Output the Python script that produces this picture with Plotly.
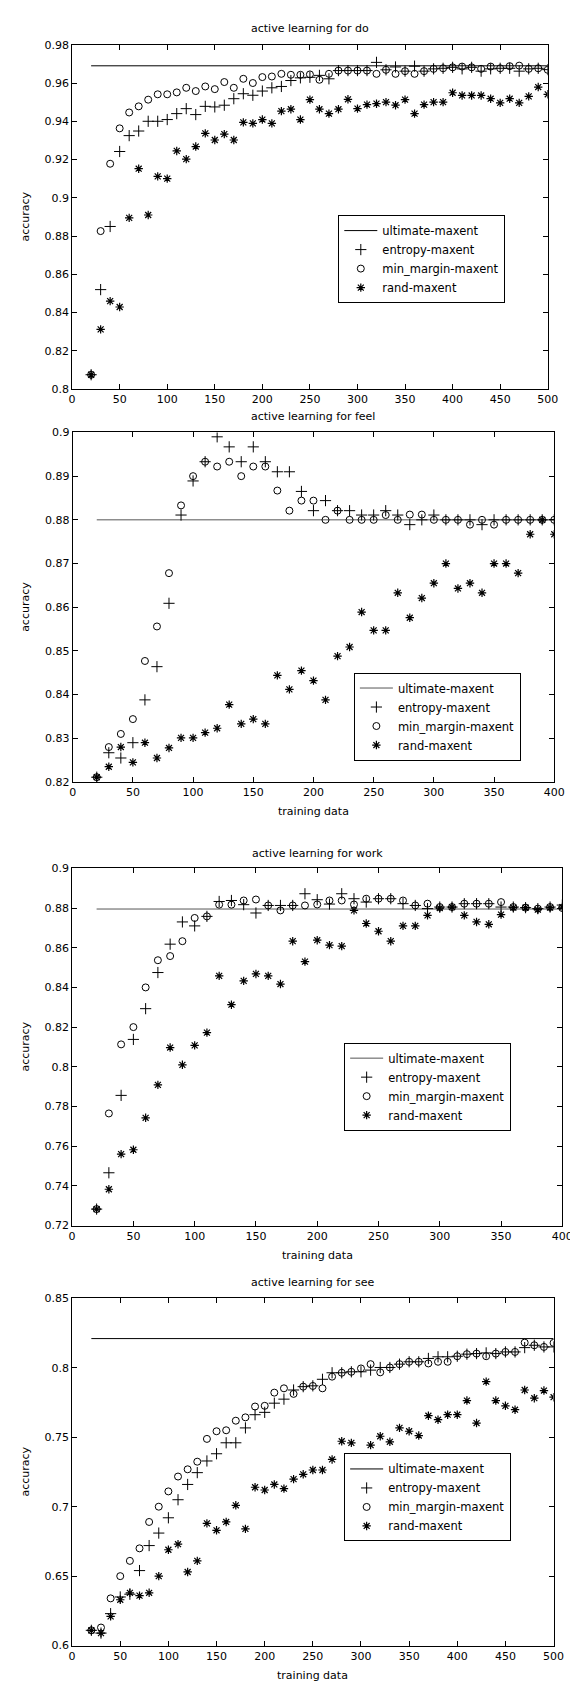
import plotly.graph_objects as go

# ---------------- data ----------------
x_do = list(range(20, 501, 10))
do_entropy = [0.8075, 0.852, 0.885, 0.9242, 0.9325, 0.9349, 0.94, 0.94, 0.9409, 0.944,
              0.9466, 0.9435, 0.9478, 0.9475, 0.9484, 0.9518, 0.9544, 0.9536, 0.9558, 0.9575,
              0.9582, 0.9613, 0.9627, 0.963, 0.964, 0.9622, 0.9665, 0.9665, 0.9665, 0.9665,
              0.9708, 0.9669, 0.9684, 0.9662, 0.9688, 0.9662, 0.9674, 0.9677, 0.9682, 0.9674,
              0.9682, 0.9662, 0.9674, 0.9677, 0.9677, 0.9662, 0.9674, 0.9677, 0.967]
do_margin = [0.8075, 0.8826, 0.9178, 0.9363, 0.9446, 0.9478, 0.9513, 0.9541, 0.9541, 0.9551,
             0.9575, 0.9558, 0.9582, 0.9568, 0.9605, 0.9575, 0.9622, 0.96, 0.9631, 0.9634,
             0.9648, 0.9643, 0.9643, 0.9645, 0.9617, 0.9648, 0.9665, 0.9665, 0.9665, 0.9665,
             0.9648, 0.9669, 0.9648, 0.9662, 0.9648, 0.9662, 0.9674, 0.9677, 0.9682, 0.9686,
             0.9682, 0.9674, 0.9686, 0.9677, 0.9688, 0.9691, 0.9674, 0.9677, 0.9669]
do_rand = [0.8075, 0.8312, 0.846, 0.8429, 0.8895, 0.9152, 0.891, 0.9112, 0.91, 0.9245,
           0.9202, 0.9268, 0.9337, 0.9302, 0.9333, 0.9302, 0.9394, 0.9389, 0.9409, 0.9389,
           0.9453, 0.9463, 0.9409, 0.9513, 0.9463, 0.944, 0.9463, 0.9515, 0.9466, 0.9487,
           0.9492, 0.95, 0.9484, 0.9513, 0.944, 0.9487, 0.95, 0.95, 0.9549, 0.9535,
           0.9535, 0.9535, 0.9518, 0.9496, 0.9518, 0.9496, 0.953, 0.9579, 0.9541]
do_ultimate = 0.969

x_feel = list(range(20, 401, 10))
feel_entropy = [0.8211, 0.8267, 0.8255, 0.829, 0.8388, 0.8464, 0.8609, 0.8811, 0.8889, 0.8933,
                0.899, 0.8967, 0.8933, 0.8967, 0.8933, 0.891, 0.891, 0.8865, 0.8821, 0.8844,
                0.8821, 0.8821, 0.8811, 0.8811, 0.8821, 0.8811, 0.8789, 0.88, 0.8811, 0.88,
                0.88, 0.88, 0.8789, 0.88, 0.88, 0.88, 0.88, 0.88, 0.88]
feel_margin = [0.8211, 0.828, 0.831, 0.8344, 0.8477, 0.8556, 0.8678, 0.8833, 0.89, 0.8933,
               0.8922, 0.8933, 0.89, 0.8922, 0.8922, 0.8867, 0.8821, 0.8844, 0.8844, 0.88,
               0.8821, 0.88, 0.88, 0.88, 0.8811, 0.88, 0.8812, 0.8812, 0.88, 0.88,
               0.88, 0.8789, 0.88, 0.8789, 0.88, 0.88, 0.88, 0.88, 0.88]
feel_rand = [0.8211, 0.8235, 0.828, 0.8245, 0.829, 0.8255, 0.8278, 0.8301, 0.8301, 0.8313,
             0.8323, 0.8377, 0.8333, 0.8344, 0.8333, 0.8444, 0.8412, 0.8455, 0.8432, 0.8388,
             0.8488, 0.8509, 0.8589, 0.8547, 0.8547, 0.8633, 0.8576, 0.8621, 0.8655, 0.87,
             0.8643, 0.8655, 0.8633, 0.87, 0.87, 0.8678, 0.8767, 0.88, 0.8767]
feel_ultimate = 0.88

x_work = list(range(20, 401, 10))
work_entropy = [0.7283, 0.7466, 0.7856, 0.8138, 0.8293, 0.8475, 0.8618, 0.873, 0.871, 0.8758,
                0.8833, 0.8838, 0.8817, 0.8775, 0.8813, 0.8813, 0.8813, 0.8872, 0.8842, 0.882,
                0.8872, 0.8847, 0.883, 0.8847, 0.8847, 0.8822, 0.8813, 0.8797, 0.8805, 0.8805,
                0.8822, 0.8822, 0.8822, 0.8805, 0.8805, 0.8802, 0.8797, 0.8805, 0.8815]
work_margin = [0.7283, 0.7765, 0.8113, 0.82, 0.84, 0.8537, 0.8558, 0.8633, 0.875, 0.8758,
               0.8817, 0.8817, 0.8838, 0.8843, 0.8813, 0.8788, 0.8813, 0.8813, 0.8818, 0.8838,
               0.8838, 0.8818, 0.8847, 0.8847, 0.8847, 0.8838, 0.8813, 0.8822, 0.8805, 0.8805,
               0.8822, 0.8822, 0.8822, 0.883, 0.8805, 0.8802, 0.8797, 0.8805, 0.88]
work_rand = [0.7283, 0.7383, 0.756, 0.7582, 0.7743, 0.7909, 0.8097, 0.801, 0.8108, 0.8172,
             0.8458, 0.8313, 0.8433, 0.8468, 0.8458, 0.8417, 0.8633, 0.853, 0.8638, 0.8613,
             0.8608, 0.8788, 0.8722, 0.8683, 0.8633, 0.871, 0.871, 0.8763, 0.88, 0.8805,
             0.8763, 0.873, 0.8718, 0.8767, 0.8802, 0.8802, 0.8792, 0.8802, 0.8805]
work_ultimate = 0.8795

x_see = list(range(20, 501, 10))
see_entropy = [0.611, 0.609, 0.623, 0.635, 0.637, 0.654, 0.672, 0.681, 0.692, 0.705,
               0.716, 0.7245, 0.7329, 0.7381, 0.746, 0.746, 0.7567, 0.7662, 0.7679, 0.7745,
               0.7774, 0.784, 0.7864, 0.787, 0.7917, 0.7964, 0.7964, 0.7971, 0.7971, 0.7983,
               0.8002, 0.8002, 0.8026, 0.8043, 0.8043, 0.8067, 0.8079, 0.8079, 0.8083, 0.8098,
               0.8102, 0.8107, 0.8102, 0.8114, 0.8114, 0.8145, 0.8162, 0.815, 0.815]
see_margin = [0.611, 0.613, 0.634, 0.65, 0.661, 0.67, 0.689, 0.70, 0.711, 0.7217,
              0.7269, 0.7324, 0.7488, 0.7543, 0.755, 0.7619, 0.7643, 0.7721, 0.7726, 0.7821,
              0.7852, 0.7812, 0.7864, 0.7869, 0.7852, 0.7936, 0.7964, 0.7971, 0.7995, 0.8026,
              0.7967, 0.8002, 0.8026, 0.8043, 0.8043, 0.8031, 0.8043, 0.8043, 0.8083, 0.8098,
              0.8102, 0.8083, 0.8102, 0.8114, 0.8114, 0.8181, 0.8162, 0.815, 0.8179]
see_rand = [0.611, 0.609, 0.621, 0.633, 0.638, 0.636, 0.638, 0.65, 0.669, 0.673,
            0.653, 0.661, 0.688, 0.683, 0.689, 0.701, 0.684, 0.714, 0.712, 0.716,
            0.713, 0.7198, 0.7233, 0.7264, 0.7264, 0.734, 0.7471, 0.7459, 0.731, 0.7443,
            0.7507, 0.7467, 0.7567, 0.7543, 0.7512, 0.7655, 0.7626, 0.7662, 0.7662, 0.7764,
            0.7602, 0.79, 0.7764, 0.7726, 0.7698, 0.784, 0.7781, 0.7836, 0.7788]
see_ultimate = 0.821

titles = ["active learning for do", "active learning for feel",
          "active learning for work", "active learning for see"]
series_names = ["ultimate-maxent", "entropy-maxent", "min_margin-maxent", "rand-maxent"]

x_ticks_500 = [0, 50, 100, 150, 200, 250, 300, 350, 400, 450, 500]
x_ticks_400 = [0, 50, 100, 150, 200, 250, 300, 350, 400]
y_ticks_do = [0.8, 0.82, 0.84, 0.86, 0.88, 0.9, 0.92, 0.94, 0.96, 0.98]
y_labels_do = ["0.8", "0.82", "0.84", "0.86", "0.88", "0.9", "0.92", "0.94", "0.96", "0.98"]
y_ticks_feel = [0.82, 0.83, 0.84, 0.85, 0.86, 0.87, 0.88, 0.89, 0.9]
y_labels_feel = ["0.82", "0.83", "0.84", "0.85", "0.86", "0.87", "0.88", "0.89", "0.9"]
y_ticks_work = [0.72, 0.74, 0.76, 0.78, 0.8, 0.82, 0.84, 0.86, 0.88, 0.9]
y_labels_work = ["0.72", "0.74", "0.76", "0.78", "0.8", "0.82", "0.84", "0.86", "0.88", "0.9"]
y_ticks_see = [0.6, 0.65, 0.7, 0.75, 0.8, 0.85]
y_labels_see = ["0.6", "0.65", "0.7", "0.75", "0.8", "0.85"]

# ---------------- layout geometry (pixels) ----------------
W, H = 578, 1683
FONT = "DejaVu Sans"

panels = [
    dict(x=x_do, ent=do_entropy, mar=do_margin, rnd=do_rand, ult=do_ultimate, ucol="black",
         xr=[0, 500], xt=x_ticks_500, yr=[0.8, 0.98], yt=y_ticks_do, yl=y_labels_do,
         px=(61.7, 550), py=(31, 378), title_y=15, xlabel=False, leg=(335, 247)),
    dict(x=x_feel, ent=feel_entropy, mar=feel_margin, rnd=feel_rand, ult=feel_ultimate, ucol="#555555",
         xr=[0, 400], xt=x_ticks_400, yr=[0.82, 0.9], yt=y_ticks_feel, yl=y_labels_feel,
         px=(62.3, 556.7), py=(421.7, 774), title_y=406, xlabel=True, leg=(351, 708)),
    dict(x=x_work, ent=work_entropy, mar=work_margin, rnd=work_rand, ult=work_ultimate, ucol="#555555",
         xr=[0, 400], xt=x_ticks_400, yr=[0.72, 0.9], yt=y_ticks_work, yl=y_labels_work,
         px=(61.7, 565), py=(861, 1221), title_y=846, xlabel=True, leg=(341, 1081)),
    dict(x=x_see, ent=see_entropy, mar=see_margin, rnd=see_rand, ult=see_ultimate, ucol="black",
         xr=[0, 500], xt=x_ticks_500, yr=[0.6, 0.85], yt=y_ticks_see, yl=y_labels_see,
         px=(61.7, 556), py=(1294.3, 1644.3), title_y=1278, xlabel=True, leg=(341, 1495)),
]

fig = go.Figure()
layout = dict(width=W, height=H, margin=dict(l=0, r=0, t=0, b=0),
              paper_bgcolor="white", plot_bgcolor="white",
              font=dict(family=FONT, size=11, color="black"), annotations=[])

for i, p in enumerate(panels):
    n = i + 1
    xa = "x" if n == 1 else f"x{n}"
    ya = "y" if n == 1 else f"y{n}"
    lg = "legend" if n == 1 else f"legend{n}"
    fig.add_trace(go.Scatter(x=[p["x"][0], p["x"][-1]], y=[p["ult"], p["ult"]], mode="lines",
                             line=dict(color=p["ucol"], width=1), name=series_names[0],
                             xaxis=xa, yaxis=ya, legend=lg))
    fig.add_trace(go.Scatter(x=p["x"], y=p["ent"], mode="markers", name=series_names[1],
                             marker=dict(symbol="cross-thin-open", size=8, color="black",
                                         line=dict(color="black", width=1)),
                             xaxis=xa, yaxis=ya, legend=lg))
    fig.add_trace(go.Scatter(x=p["x"], y=p["mar"], mode="markers", name=series_names[2],
                             marker=dict(symbol="circle-open", size=7, color="black",
                                         line=dict(color="black", width=1)),
                             xaxis=xa, yaxis=ya, legend=lg))
    fig.add_trace(go.Scatter(x=p["x"], y=p["rnd"], mode="markers", name=series_names[3],
                             marker=dict(symbol="asterisk-open", size=7, color="black",
                                         line=dict(color="black", width=1.2)),
                             xaxis=xa, yaxis=ya, legend=lg))

    x0, x1 = p["px"]
    y0, y1 = p["py"]
    axis_common = dict(showline=True, linecolor="black", linewidth=1, mirror="ticks",
                       ticks="inside", ticklen=5, tickwidth=1, tickcolor="black",
                       showgrid=False, zeroline=False, tickfont=dict(family=FONT, size=11),
                       fixedrange=True)
    layout["xaxis" if n == 1 else f"xaxis{n}"] = dict(
        domain=[x0 / W, x1 / W], anchor=ya, range=p["xr"], tickvals=p["xt"],
        ticktext=[str(v) for v in p["xt"]], **axis_common)
    layout["yaxis" if n == 1 else f"yaxis{n}"] = dict(
        domain=[1 - y1 / H, 1 - y0 / H], anchor=xa, range=p["yr"], tickvals=p["yt"],
        ticktext=p["yl"], **axis_common)
    layout[lg] = dict(x=p["leg"][0] / W, y=1 - p["leg"][1] / H, xanchor="left", yanchor="middle",
                      bgcolor="white", bordercolor="black", borderwidth=1,
                      font=dict(family=FONT, size=11.5), tracegroupgap=0, itemwidth=33)

    cx = (x0 + x1) / 2 / W
    layout["annotations"].append(dict(text=titles[i], x=cx, y=1 - p["title_y"] / H,
                                      xref="paper", yref="paper", showarrow=False,
                                      xanchor="center", yanchor="middle",
                                      font=dict(family=FONT, size=11)))
    layout["annotations"].append(dict(text="accuracy", x=14 / W, y=1 - (y0 + y1) / 2 / H,
                                      xref="paper", yref="paper", showarrow=False, textangle=-90,
                                      xanchor="center", yanchor="middle",
                                      font=dict(family=FONT, size=11)))
    if p["xlabel"]:
        layout["annotations"].append(dict(text="training data", x=cx, y=1 - (y1 + 30) / H,
                                          xref="paper", yref="paper", showarrow=False,
                                          xanchor="center", yanchor="middle",
                                          font=dict(family=FONT, size=11)))

fig.update_layout(**layout)
fig.write_html("out.html")
